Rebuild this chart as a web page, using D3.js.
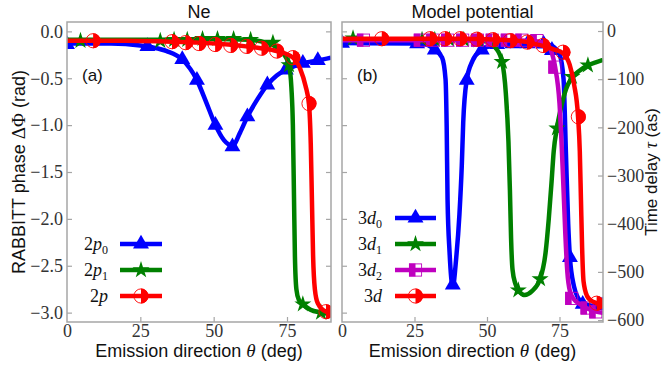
<!DOCTYPE html>
<html><head><meta charset="utf-8">
<script src="https://cdn.jsdelivr.net/npm/d3@7"></script>
<style>body{margin:0;background:#fff}svg{display:block}</style>
</head><body>
<svg id="chart" width="663" height="368"></svg>
<script>
// ---- Ne panel: RABBITT phase (rad) vs emission angle (deg) ----
const ne2p0Curve = [[0,-0.13],[15,-0.13],[25,-0.15],[29,-0.17],[34,-0.21],[39.3,-0.3],[44.3,-0.52],[47.5,-0.76],[50.6,-1.0],[53.5,-1.16],[56.4,-1.22],[59,-1.08],[61.5,-0.91],[65,-0.72],[68.3,-0.57],[71.5,-0.47],[74.6,-0.41],[80.4,-0.34],[85.5,-0.31],[90,-0.28]];
const ne2p0Marks = [[0,-0.14],[27.4,-0.16],[39.3,-0.3],[44.3,-0.52],[50.6,-1.0],[56.4,-1.23],[61.5,-0.91],[68.3,-0.57],[74.6,-0.41],[80.4,-0.34],[85.5,-0.31]];

const ne2p1Curve = [[0,-0.09],[30,-0.09],[50,-0.08],[62,-0.09],[68,-0.12],[72,-0.18],[74.5,-0.27],[75.7,-0.36],[76.5,-0.6],[77,-1.0],[77.4,-1.8],[77.7,-2.4],[78.2,-2.75],[79,-2.86],[80.4,-2.91],[83,-2.97],[86.6,-3.0],[90,-3.02]];
const ne2p1Marks = [[4.6,-0.1],[31.8,-0.1],[36.5,-0.09],[41,-0.09],[46.2,-0.08],[51.3,-0.08],[56.8,-0.08],[62.6,-0.09],[70.2,-0.12],[75.7,-0.36],[80.4,-2.91],[86.6,-3.0]];

const ne2pCurve = [[0,-0.1],[20,-0.1],[36,-0.11],[45,-0.12],[55,-0.14],[61,-0.16],[66,-0.18],[71.5,-0.21],[77,-0.28],[79.5,-0.4],[81.3,-0.58],[82.5,-0.78],[83.1,-1.2],[83.5,-1.8],[83.9,-2.4],[84.5,-2.75],[85.5,-2.9],[88.3,-2.99],[90,-3.0]];
const ne2pMarks = [[8.9,-0.1],[35.8,-0.11],[40.4,-0.12],[45,-0.13],[50.5,-0.14],[55.8,-0.15],[61.2,-0.16],[66.3,-0.18],[71.5,-0.21],[77,-0.28],[82.5,-0.77],[88.3,-2.99]];

// ---- Model potential panel: time delay (as) vs emission angle (deg) ----
const mp3d0Curve = [[0,-25],[25,-26],[29,-28],[32,-39],[34.5,-55],[35.7,-100],[36.1,-200],[36.4,-350],[37.1,-460],[38.2,-530],[39.4,-470],[40.5,-380],[41.3,-280],[41.8,-190],[43,-102],[45,-62],[48.2,-39],[52,-30],[60,-26],[70,-27],[73,-33],[75,-48],[76.4,-100],[77.2,-250],[78,-400],[78.6,-470],[80,-530],[81.5,-555],[83,-565],[86,-570],[90,-572]];
const mp3d0Marks = [[0,-25],[25.9,-26],[32,-39],[38.2,-527],[43,-102],[48.2,-39],[53.5,-28],[58.8,-26],[64,-26],[69.5,-27],[72.4,-40],[78.6,-470],[83,-567],[89.7,-570]];

const mp3d1Curve = [[0,-18],[30,-18],[45,-19],[50,-22],[53,-35],[55.2,-64],[56.5,-130],[57.4,-230],[57.9,-330],[58.3,-430],[58.8,-495],[59.8,-525],[60.8,-538],[63,-548],[65.5,-540],[68.3,-515],[70.2,-460],[71.3,-390],[72.3,-310],[73,-250],[74.1,-202],[75.5,-160],[77.3,-120],[79.3,-97],[82,-82],[84.8,-71],[87.5,-65],[90,-60]];
const mp3d1Marks = [[3.8,-15],[27.6,-18],[32,-18],[37,-18],[42,-18],[47,-19],[55.2,-64],[60.8,-538],[68.3,-515],[74.1,-202],[79.3,-95],[84.8,-71]];

const mp3d2Curve = [[0,-19],[30,-19],[50,-19],[65,-20],[70,-25],[72,-40],[73.5,-75],[75,-150],[76.2,-300],[77,-420],[77.7,-500],[78.6,-540],[80,-557],[82,-567],[85,-577],[88,-583],[90,-585]];
const mp3d2Marks = [[7.4,-19],[27,-19],[31.4,-19],[36.4,-19],[41.6,-19],[46.7,-19],[51.8,-19],[57,-19],[62,-19],[67.2,-20],[73.4,-75],[79.2,-555],[84.5,-575],[87.5,-583]];

const mp3dCurve = [[0,-16],[20,-16],[40,-16],[55,-18],[63.8,-23],[69.3,-31],[73,-38],[76.2,-46],[78.5,-70],[80,-110],[81.4,-178],[82,-250],[82.4,-350],[82.8,-450],[83.3,-520],[84.5,-550],[86,-560],[87.8,-565],[90,-572]];
const mp3dMarks = [[13.7,-16],[30.3,-16],[35.5,-16],[40.7,-16],[46.5,-17],[52,-18],[58,-20],[63.8,-23],[69.3,-30],[76.2,-44],[81.5,-178],[87.8,-565]];

// ---- ticks ----
const angleTicks = [0, 25, 50, 75];
const phaseTicks = [0, -0.5, -1.0, -1.5, -2.0, -2.5, -3.0];
const delayTicks = [0, -100, -200, -300, -400, -500, -600];

// ---- layout ----
const plotTop = 22, plotBottom = 322;
const xNe = d3.scaleLinear().domain([0, 90]).range([67, 331]);
const xMp = d3.scaleLinear().domain([0, 90]).range([342, 603]);
const yPhase = d3.scaleLinear().domain([-3.1, 0.1]).range([plotBottom, plotTop]);
const yDelay = d3.scaleLinear().domain([-604, 18.7]).range([plotBottom, plotTop]);

const svg = d3.select("#chart");
const frameColor = "#a6a6a6";
const tickText = "#333";
const serif = "'Liberation Serif', 'DejaVu Serif', serif";
const sans = "'Liberation Sans', Arial, sans-serif";
const minus = s => String(s).replace("-", "\u2212");

const C = { blue: "#0000ff", green: "#008000", magenta: "#bf00bf", red: "#ff0000" };

function styleAxis(g) {
  g.attr("font-family", serif).attr("font-size", 18);
  g.select(".domain").remove();
  g.selectAll(".tick line").attr("stroke", frameColor).attr("stroke-width", 1.2);
  g.selectAll(".tick text").attr("fill", tickText).attr("font-family", serif)
    .style("font-family", serif).style("font-size", "18px");
}

// ---- marker drawing ----
function drawMarker(g, kind, color, x, y) {
  const m = g.append("g").attr("transform", `translate(${x},${y})`);
  if (kind === "tri") {
    m.append("path").attr("d", d3.symbol(d3.symbolTriangle, 110)()).attr("fill", color);
  } else if (kind === "star") {
    m.append("path").attr("d", d3.symbol(d3.symbolStar, 90)()).attr("fill", color);
  } else if (kind === "halfcircle") {
    const r = 7.5;
    m.append("path").attr("d", `M0,${-r}A${r},${r} 0 0,1 0,${r}Z`).attr("fill", color);
    m.append("circle").attr("r", r - 0.4).attr("fill", "none").attr("stroke", color).attr("stroke-width", 0.9);
  } else if (kind === "halfsquare") {
    const s = 13;
    m.append("rect").attr("x", -s / 2).attr("y", -s / 2).attr("width", s / 2).attr("height", s).attr("fill", color);
    m.append("rect").attr("x", -s / 2 + 0.4).attr("y", -s / 2 + 0.4).attr("width", s - 0.8).attr("height", s - 0.8)
      .attr("fill", "none").attr("stroke", color).attr("stroke-width", 0.9);
  }
}

function drawSeries(g, xs, ys, curve, marks, color, kind) {
  const line = d3.line().x(d => xs(d[0])).y(d => ys(d[1])).curve(d3.curveMonotoneX);
  g.append("path").attr("d", line(curve)).attr("fill", "none").attr("stroke", color)
    .attr("stroke-width", 4.5).attr("stroke-linejoin", "round").attr("stroke-linecap", "butt");
  marks.forEach(d => drawMarker(g, kind, color, xs(d[0]), ys(d[1])));
}

function drawLegend(g, rows) {
  rows.forEach(r => {
    const y = r.y;
    g.append("line").attr("x1", r.x1).attr("x2", r.x2).attr("y1", y).attr("y2", y)
      .attr("stroke", r.color).attr("stroke-width", 4.5);
    drawMarker(g, r.kind, r.color, (r.x1 + r.x2) / 2, y);
    const t = g.append("text").attr("x", r.tx).attr("y", y + 6).attr("text-anchor", "end")
      .style("font-family", serif).style("font-size", "18px").attr("fill", "#111");
    t.append("tspan").text(r.n);
    t.append("tspan").style("font-style", "italic").text(r.l);
    if (r.sub !== "") t.append("tspan").attr("dy", 4).style("font-size", "12px").text(r.sub);
  });
}

function panel(id, xs, title, tag) {
  const x0 = xs.range()[0], x1 = xs.range()[1];
  const g = svg.append("g");
  // clip region for data
  svg.append("clipPath").attr("id", id).append("rect")
    .attr("x", x0).attr("y", plotTop).attr("width", x1 - x0).attr("height", plotBottom - plotTop);

  // bottom axis, inward ticks
  const xa = g.append("g").attr("transform", `translate(0,${plotBottom})`)
    .call(d3.axisBottom(xs).tickValues(angleTicks).tickSize(-5).tickSizeOuter(0).tickPadding(2).tickFormat(d => d));
  styleAxis(xa);
  xa.selectAll(".tick text").attr("dy", "0.72em");
  xa.selectAll(".tick").filter(d => d === 0).select("line").remove();

  // left ticks (phase scale)
  const ya = g.append("g").attr("transform", `translate(${x0},0)`)
    .call(d3.axisLeft(yPhase).tickValues(phaseTicks).tickSize(-5).tickSizeOuter(0).tickPadding(4)
      .tickFormat(d => minus(d.toFixed(1))));
  styleAxis(ya);
  if (id !== "clipNe") ya.selectAll(".tick text").remove();

  // title
  svg.append("text").attr("x", (x0 + x1) / 2).attr("y", 18).attr("text-anchor", "middle")
    .style("font-family", sans).style("font-size", "18px").attr("fill", "#111").text(title);
  // panel tag
  svg.append("text").attr("x", x0 + 15).attr("y", 81)
    .style("font-family", sans).style("font-size", "17px").attr("fill", "#111").text(tag);
  // x label
  const xl = svg.append("text").attr("x", (x0 + x1) / 2).attr("y", 357).attr("text-anchor", "middle")
    .style("font-family", sans).style("font-size", "18px").attr("fill", "#111");
  xl.append("tspan").text("Emission direction ");
  xl.append("tspan").style("font-family", serif).style("font-style", "italic").style("font-size", "19px").text("\u03b8");
  xl.append("tspan").text(" (deg)");

  const data = svg.append("g").attr("clip-path", `url(#${id})`);
  return { g, data, x0, x1 };
}

// ---- left panel: Ne ----
const pNe = panel("clipNe", xNe, "Ne", "(a)");
// right ticks without labels
const neRight = pNe.g.append("g").attr("transform", `translate(${pNe.x1},0)`)
  .call(d3.axisRight(yPhase).tickValues(phaseTicks).tickSize(-5).tickSizeOuter(0).tickFormat(""));
styleAxis(neRight);

drawSeries(pNe.data, xNe, yPhase, ne2p0Curve, ne2p0Marks, C.blue, "tri");
drawSeries(pNe.data, xNe, yPhase, ne2p1Curve, ne2p1Marks, C.green, "star");
drawSeries(pNe.data, xNe, yPhase, ne2pCurve, ne2pMarks, C.red, "halfcircle");

drawLegend(svg.append("g"), [
  { y: 244, x1: 120, x2: 162, tx: 108, color: C.blue, kind: "tri", n: "2", l: "p", sub: "0" },
  { y: 270, x1: 120, x2: 162, tx: 108, color: C.green, kind: "star", n: "2", l: "p", sub: "1" },
  { y: 296, x1: 120, x2: 162, tx: 108, color: C.red, kind: "halfcircle", n: "2", l: "p", sub: "" }
]);

// ---- right panel: model potential ----
const pMp = panel("clipMp", xMp, "Model potential", "(b)");
const mpRight = pMp.g.append("g").attr("transform", `translate(${pMp.x1},0)`)
  .call(d3.axisRight(yDelay).tickValues(delayTicks).tickSize(-5).tickSizeOuter(0).tickPadding(4)
    .tickFormat(d => minus(d)));
styleAxis(mpRight);

drawSeries(pMp.data, xMp, yDelay, mp3d0Curve, mp3d0Marks, C.blue, "tri");
drawSeries(pMp.data, xMp, yDelay, mp3d1Curve, mp3d1Marks, C.green, "star");
drawSeries(pMp.data, xMp, yDelay, mp3d2Curve, mp3d2Marks, C.magenta, "halfsquare");
drawSeries(pMp.data, xMp, yDelay, mp3dCurve, mp3dMarks, C.red, "halfcircle");

drawLegend(svg.append("g"), [
  { y: 218, x1: 395, x2: 436, tx: 382, color: C.blue, kind: "tri", n: "3", l: "d", sub: "0" },
  { y: 244, x1: 395, x2: 436, tx: 382, color: C.green, kind: "star", n: "3", l: "d", sub: "1" },
  { y: 270, x1: 395, x2: 436, tx: 382, color: C.magenta, kind: "halfsquare", n: "3", l: "d", sub: "2" },
  { y: 296, x1: 395, x2: 436, tx: 382, color: C.red, kind: "halfcircle", n: "3", l: "d", sub: "" }
]);

// ---- frames ----
[pNe, pMp].forEach(p => {
  svg.append("rect").attr("x", p.x0).attr("y", plotTop).attr("width", p.x1 - p.x0).attr("height", plotBottom - plotTop)
    .attr("fill", "none").attr("stroke", frameColor).attr("stroke-width", 1.5);
});

// ---- y labels ----
const yl = svg.append("text").attr("transform", `translate(25,172) rotate(-90)`).attr("text-anchor", "middle")
  .style("font-family", sans).style("font-size", "18px").attr("fill", "#111");
yl.append("tspan").text("RABBITT phase ");
yl.append("tspan").style("font-family", serif).style("font-size", "19px").text("\u0394\u03a6");
yl.append("tspan").text(" (rad)");

const yr = svg.append("text").attr("transform", `translate(657,172) rotate(-90)`).attr("text-anchor", "middle")
  .style("font-family", sans).style("font-size", "17px").attr("fill", "#111");
yr.append("tspan").text("Time delay ");
yr.append("tspan").style("font-family", serif).style("font-style", "italic").style("font-size", "18px").text("\u03c4");
yr.append("tspan").text(" (as)");
</script>
</body></html>
